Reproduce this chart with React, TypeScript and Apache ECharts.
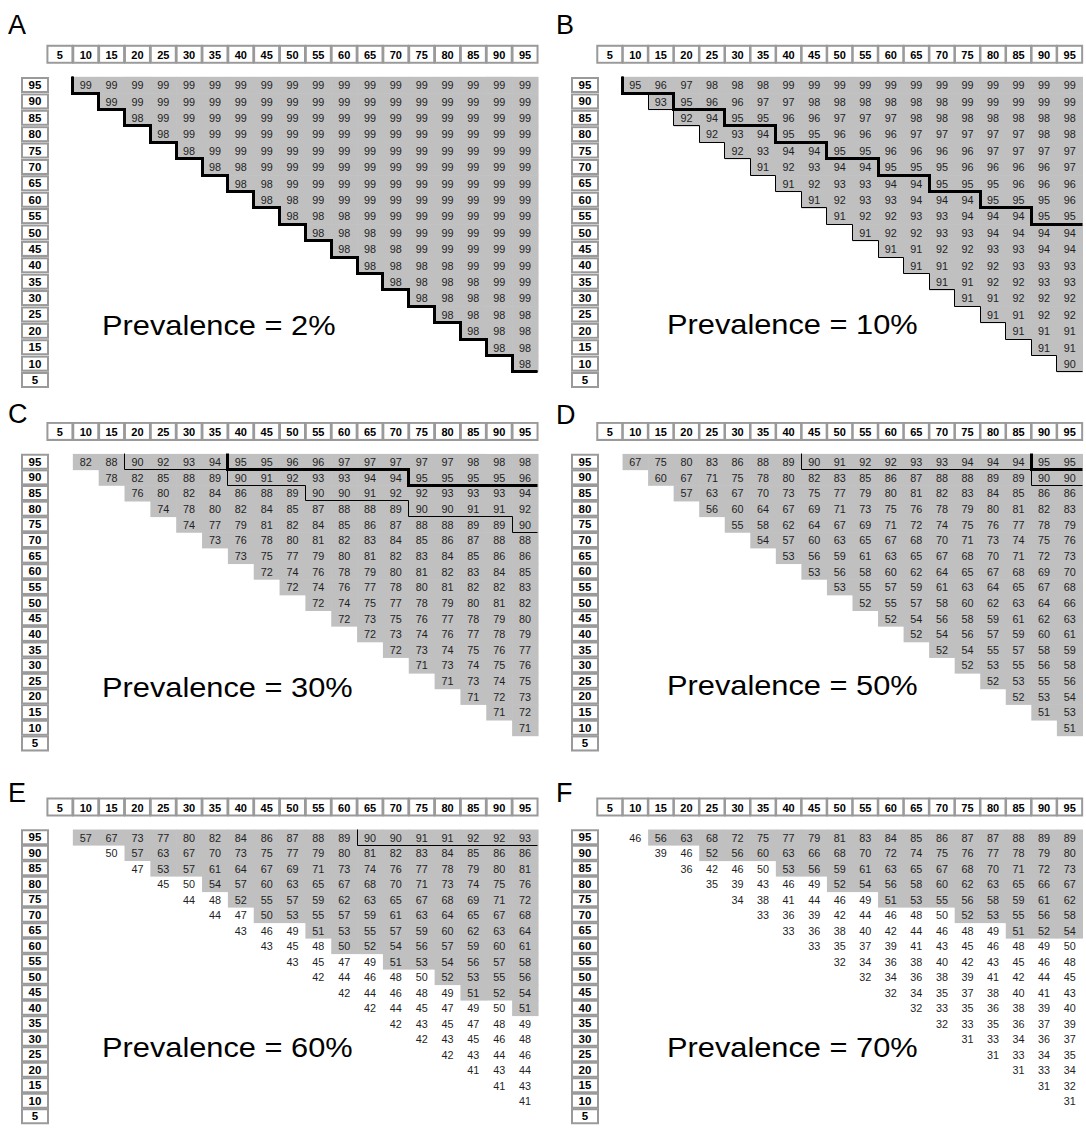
import { useEffect, useRef } from 'react';
import * as echarts from 'echarts';

const FONT = '"Liberation Sans", Arial, Helvetica, sans-serif';

// Column categories: specificity (%) ; row categories: sensitivity (%)
const SPEC = ['5', '10', '15', '20', '25', '30', '35', '40', '45', '50', '55', '60', '65', '70', '75', '80', '85', '90', '95'];
const SENS = ['95', '90', '85', '80', '75', '70', '65', '60', '55', '50', '45', '40', '35', '30', '25', '20', '15', '10', '5'];
const LETTERS = ['A', 'B', 'C', 'D', 'E', 'F'];
const PREVALENCE = [2, 10, 30, 50, 60, 70];

// Values per row (sensitivity 95 .. 10), each row starting at the first specificity with sens + spec > 100
const NPV_A = [
  [99, 99, 99, 99, 99, 99, 99, 99, 99, 99, 99, 99, 99, 99, 99, 99, 99, 99],
  [99, 99, 99, 99, 99, 99, 99, 99, 99, 99, 99, 99, 99, 99, 99, 99, 99],
  [98, 99, 99, 99, 99, 99, 99, 99, 99, 99, 99, 99, 99, 99, 99, 99],
  [98, 99, 99, 99, 99, 99, 99, 99, 99, 99, 99, 99, 99, 99, 99],
  [98, 99, 99, 99, 99, 99, 99, 99, 99, 99, 99, 99, 99, 99],
  [98, 98, 99, 99, 99, 99, 99, 99, 99, 99, 99, 99, 99],
  [98, 98, 99, 99, 99, 99, 99, 99, 99, 99, 99, 99],
  [98, 98, 99, 99, 99, 99, 99, 99, 99, 99, 99],
  [98, 98, 98, 99, 99, 99, 99, 99, 99, 99],
  [98, 98, 98, 99, 99, 99, 99, 99, 99],
  [98, 98, 98, 99, 99, 99, 99, 99],
  [98, 98, 98, 98, 99, 99, 99],
  [98, 98, 98, 98, 99, 99],
  [98, 98, 98, 98, 99],
  [98, 98, 98, 98],
  [98, 98, 98],
  [98, 98],
  [98],
];
const NPV_B = [
  [95, 96, 97, 98, 98, 98, 99, 99, 99, 99, 99, 99, 99, 99, 99, 99, 99, 99],
  [93, 95, 96, 96, 97, 97, 98, 98, 98, 98, 98, 98, 99, 99, 99, 99, 99],
  [92, 94, 95, 95, 96, 96, 97, 97, 97, 98, 98, 98, 98, 98, 98, 98],
  [92, 93, 94, 95, 95, 96, 96, 96, 97, 97, 97, 97, 97, 98, 98],
  [92, 93, 94, 94, 95, 95, 96, 96, 96, 96, 97, 97, 97, 97],
  [91, 92, 93, 94, 94, 95, 95, 95, 96, 96, 96, 96, 97],
  [91, 92, 93, 93, 94, 94, 95, 95, 95, 96, 96, 96],
  [91, 92, 93, 93, 94, 94, 94, 95, 95, 95, 96],
  [91, 92, 92, 93, 93, 94, 94, 94, 95, 95],
  [91, 92, 92, 93, 93, 94, 94, 94, 94],
  [91, 91, 92, 92, 93, 93, 94, 94],
  [91, 91, 92, 92, 93, 93, 93],
  [91, 91, 92, 92, 93, 93],
  [91, 91, 92, 92, 92],
  [91, 91, 92, 92],
  [91, 91, 91],
  [91, 91],
  [90],
];
const NPV_C = [
  [82, 88, 90, 92, 93, 94, 95, 95, 96, 96, 97, 97, 97, 97, 97, 98, 98, 98],
  [78, 82, 85, 88, 89, 90, 91, 92, 93, 93, 94, 94, 95, 95, 95, 95, 96],
  [76, 80, 82, 84, 86, 88, 89, 90, 90, 91, 92, 92, 93, 93, 93, 94],
  [74, 78, 80, 82, 84, 85, 87, 88, 88, 89, 90, 90, 91, 91, 92],
  [74, 77, 79, 81, 82, 84, 85, 86, 87, 88, 88, 89, 89, 90],
  [73, 76, 78, 80, 81, 82, 83, 84, 85, 86, 87, 88, 88],
  [73, 75, 77, 79, 80, 81, 82, 83, 84, 85, 86, 86],
  [72, 74, 76, 78, 79, 80, 81, 82, 83, 84, 85],
  [72, 74, 76, 77, 78, 80, 81, 82, 82, 83],
  [72, 74, 75, 77, 78, 79, 80, 81, 82],
  [72, 73, 75, 76, 77, 78, 79, 80],
  [72, 73, 74, 76, 77, 78, 79],
  [72, 73, 74, 75, 76, 77],
  [71, 73, 74, 75, 76],
  [71, 73, 74, 75],
  [71, 72, 73],
  [71, 72],
  [71],
];
const NPV_D = [
  [67, 75, 80, 83, 86, 88, 89, 90, 91, 92, 92, 93, 93, 94, 94, 94, 95, 95],
  [60, 67, 71, 75, 78, 80, 82, 83, 85, 86, 87, 88, 88, 89, 89, 90, 90],
  [57, 63, 67, 70, 73, 75, 77, 79, 80, 81, 82, 83, 84, 85, 86, 86],
  [56, 60, 64, 67, 69, 71, 73, 75, 76, 78, 79, 80, 81, 82, 83],
  [55, 58, 62, 64, 67, 69, 71, 72, 74, 75, 76, 77, 78, 79],
  [54, 57, 60, 63, 65, 67, 68, 70, 71, 73, 74, 75, 76],
  [53, 56, 59, 61, 63, 65, 67, 68, 70, 71, 72, 73],
  [53, 56, 58, 60, 62, 64, 65, 67, 68, 69, 70],
  [53, 55, 57, 59, 61, 63, 64, 65, 67, 68],
  [52, 55, 57, 58, 60, 62, 63, 64, 66],
  [52, 54, 56, 58, 59, 61, 62, 63],
  [52, 54, 56, 57, 59, 60, 61],
  [52, 54, 55, 57, 58, 59],
  [52, 53, 55, 56, 58],
  [52, 53, 55, 56],
  [52, 53, 54],
  [51, 53],
  [51],
];
const NPV_E = [
  [57, 67, 73, 77, 80, 82, 84, 86, 87, 88, 89, 90, 90, 91, 91, 92, 92, 93],
  [50, 57, 63, 67, 70, 73, 75, 77, 79, 80, 81, 82, 83, 84, 85, 86, 86],
  [47, 53, 57, 61, 64, 67, 69, 71, 73, 74, 76, 77, 78, 79, 80, 81],
  [45, 50, 54, 57, 60, 63, 65, 67, 68, 70, 71, 73, 74, 75, 76],
  [44, 48, 52, 55, 57, 59, 62, 63, 65, 67, 68, 69, 71, 72],
  [44, 47, 50, 53, 55, 57, 59, 61, 63, 64, 65, 67, 68],
  [43, 46, 49, 51, 53, 55, 57, 59, 60, 62, 63, 64],
  [43, 45, 48, 50, 52, 54, 56, 57, 59, 60, 61],
  [43, 45, 47, 49, 51, 53, 54, 56, 57, 58],
  [42, 44, 46, 48, 50, 52, 53, 55, 56],
  [42, 44, 46, 48, 49, 51, 52, 54],
  [42, 44, 45, 47, 49, 50, 51],
  [42, 43, 45, 47, 48, 49],
  [42, 43, 45, 46, 48],
  [42, 43, 44, 46],
  [41, 43, 44],
  [41, 43],
  [41],
];
const NPV_F = [
  [46, 56, 63, 68, 72, 75, 77, 79, 81, 83, 84, 85, 86, 87, 87, 88, 89, 89],
  [39, 46, 52, 56, 60, 63, 66, 68, 70, 72, 74, 75, 76, 77, 78, 79, 80],
  [36, 42, 46, 50, 53, 56, 59, 61, 63, 65, 67, 68, 70, 71, 72, 73],
  [35, 39, 43, 46, 49, 52, 54, 56, 58, 60, 62, 63, 65, 66, 67],
  [34, 38, 41, 44, 46, 49, 51, 53, 55, 56, 58, 59, 61, 62],
  [33, 36, 39, 42, 44, 46, 48, 50, 52, 53, 55, 56, 58],
  [33, 36, 38, 40, 42, 44, 46, 48, 49, 51, 52, 54],
  [33, 35, 37, 39, 41, 43, 45, 46, 48, 49, 50],
  [32, 34, 36, 38, 40, 42, 43, 45, 46, 48],
  [32, 34, 36, 38, 39, 41, 42, 44, 45],
  [32, 34, 35, 37, 38, 40, 41, 43],
  [32, 33, 35, 36, 38, 39, 40],
  [32, 33, 35, 36, 37, 39],
  [31, 33, 34, 36, 37],
  [31, 33, 34, 35],
  [31, 33, 34],
  [31, 32],
  [31],
];

// Per row (sens 95 .. 10): specificity where the grey (> 50%) shading starts; missing = none
const GRAY_A = [10, 15, 20, 25, 30, 35, 40, 45, 50, 55, 60, 65, 70, 75, 80, 85, 90, 95];
const GRAY_B = [10, 15, 20, 25, 30, 35, 40, 45, 50, 55, 60, 65, 70, 75, 80, 85, 90, 95];
const GRAY_C = [10, 15, 20, 25, 30, 35, 40, 45, 50, 55, 60, 65, 70, 75, 80, 85, 90, 95];
const GRAY_D = [10, 15, 20, 25, 30, 35, 40, 45, 50, 55, 60, 65, 70, 75, 80, 85, 90, 95];
const GRAY_E = [10, 20, 25, 35, 40, 45, 55, 60, 70, 80, 85, 95];
const GRAY_F = [15, 25, 40, 50, 60, 75, 85];

// Per row: specificity where the >= 90% region (thin line) starts
const THIN_A = [10, 15, 20, 25, 30, 35, 40, 45, 50, 55, 60, 65, 70, 75, 80, 85, 90, 95];
const THIN_B = [10, 15, 20, 25, 30, 35, 40, 45, 50, 55, 60, 65, 70, 75, 80, 85, 90, 95];
const THIN_C = [20, 40, 55, 75, 95];
const THIN_D = [45, 90];
const THIN_E = [65];
const THIN_F: number[] = [];

// Per row: specificity where the >= 95% region (thick line) starts
const THICK_A = [10, 15, 20, 25, 30, 35, 40, 45, 50, 55, 60, 65, 70, 75, 80, 85, 90, 95];
const THICK_B = [10, 20, 30, 40, 50, 60, 70, 80, 90];
const THICK_C = [40, 75];
const THICK_D = [90];
const THICK_E: number[] = [];
const THICK_F: number[] = [];

const VALUES = [NPV_A, NPV_B, NPV_C, NPV_D, NPV_E, NPV_F];
const GRAYS = [GRAY_A, GRAY_B, GRAY_C, GRAY_D, GRAY_E, GRAY_F];
const THINS = [THIN_A, THIN_B, THIN_C, THIN_D, THIN_E, THIN_F];
const THICKS = [THICK_A, THICK_B, THICK_C, THICK_D, THICK_E, THICK_F];

// Layout
const COL_LEFT = [47, 597];
const ROW_TOP = [76.8, 453.9, 829.5];
const ROW_PITCH = [16.39, 15.65, 15.5];
const COL_PITCH = 25.84;
const LETTER_X = [8, 556];
const LETTER_BASE = [34, 34, 423, 424, 802, 802];
const PREV_X = [102, 667];
const PREV_BASE = [335, 334, 697, 695, 1057, 1057];

const colOf = (spec: number) => SPEC.indexOf(String(spec));

function stairSeries(k: number, starts: number[], width: number) {
  return {
    type: 'custom',
    xAxisIndex: k,
    yAxisIndex: k,
    silent: true,
    clip: false,
    z: width > 2 ? 4 : 3,
    data: starts.length ? [[0, 0]] : [],
    renderItem: (_params: any, api: any) => {
      const s = api.size([1, 1]);
      const snap = (v: number) => Math.round(v - 0.5) + 0.5;
      const pts: number[][] = [];
      const leftOf = (col: number, row: number) => {
        if (col > SPEC.length - 1) return api.coord([SPEC.length - 1, row])[0] + s[0] / 2;
        return api.coord([col, row])[0] - s[0] / 2;
      };
      for (let i = 0; i < starts.length; i++) {
        const c = api.coord([colOf(starts[i]), i]);
        const top = c[1] - s[1] / 2;
        const bot = c[1] + s[1] / 2;
        const x = leftOf(colOf(starts[i]), i);
        const nextCol = i + 1 < starts.length ? colOf(starts[i + 1]) : SPEC.length;
        const xn = leftOf(nextCol, i);
        pts.push([snap(x), snap(top)], [snap(x), snap(bot)], [snap(xn), snap(bot)]);
      }
      return {
        type: 'polyline',
        shape: { points: pts },
        style: { stroke: '#000', lineWidth: width, fill: null, lineJoin: 'miter' },
      };
    },
  };
}

function cellSeries(k: number) {
  const data: number[][] = [];
  VALUES[k].forEach((row, i) => {
    row.forEach((v, j) => {
      const col = i + 1 + j;
      const g = GRAYS[k][i];
      const isGray = g !== undefined && col >= colOf(g) ? 1 : 0;
      data.push([col, i, v, isGray]);
    });
  });
  return {
    type: 'custom',
    xAxisIndex: k,
    yAxisIndex: k,
    silent: true,
    clip: false,
    z: 2,
    data,
    renderItem: (_params: any, api: any) => {
      const c = api.coord([api.value(0), api.value(1)]);
      const s = api.size([1, 1]);
      const children: any[] = [];
      if (api.value(3)) {
        children.push({
          type: 'rect',
          shape: { x: c[0] - s[0] / 2, y: c[1] - s[1] / 2, width: s[0] + 0.6, height: s[1] + 0.6 },
          style: { fill: '#c0c0c0' },
        });
      }
      children.push({
        type: 'text',
        style: {
          text: String(api.value(2)),
          x: c[0],
          y: c[1] + 0.3,
          align: 'center',
          verticalAlign: 'middle',
          textAlign: 'center',
          textVerticalAlign: 'middle',
          fontSize: 10.8,
          fontFamily: FONT,
          fill: '#1e1e1e',
        },
      });
      return { type: 'group', children };
    },
  };
}

export default function App() {
  const ref = useRef<HTMLDivElement>(null);
  useEffect(() => {
    if (!ref.current) return;
    const chart = echarts.init(ref.current, undefined, { renderer: 'svg' });
    const idx = [0, 1, 2, 3, 4, 5];
    const grid = idx.map((k) => ({
      left: COL_LEFT[k % 2],
      top: ROW_TOP[Math.floor(k / 2)],
      width: COL_PITCH * SPEC.length,
      height: ROW_PITCH[Math.floor(k / 2)] * SENS.length,
      containLabel: false,
    }));
    const xAxis = idx.map((k) => ({
      gridIndex: k,
      type: 'category',
      data: SPEC,
      position: 'top',
      axisLine: { show: false },
      axisTick: { show: false },
      splitLine: { show: false },
      axisLabel: {
        interval: 0,
        margin: 15,
        fontSize: 11,
        fontWeight: 'bold',
        fontFamily: FONT,
        color: '#000',
        width: 21,
        lineHeight: 12,
        align: 'center',
        padding: [2, 1, 1, 1],
        borderColor: '#9a9a9a',
        borderWidth: 2,
        backgroundColor: '#fff',
      },
    }));
    const yAxis = idx.map((k) => ({
      gridIndex: k,
      type: 'category',
      data: SENS,
      inverse: true,
      axisLine: { show: false },
      axisTick: { show: false },
      splitLine: { show: false },
      axisLabel: {
        interval: 0,
        margin: 12,
        fontSize: 11.5,
        fontWeight: 'bold',
        fontFamily: FONT,
        color: '#000',
        width: 22,
        lineHeight: 11,
        align: 'center',
        verticalAlign: 'middle',
        padding: [1, 1, 0, 1],
        borderColor: '#9a9a9a',
        borderWidth: 2,
        backgroundColor: '#fff',
      },
    }));
    const series: any[] = [];
    idx.forEach((k) => {
      series.push(cellSeries(k));
      series.push(stairSeries(k, THINS[k], 1));
      series.push(stairSeries(k, THICKS[k], 3));
    });
    const graphic: any[] = [];
    LETTERS.forEach((L, k) => {
      graphic.push({
        type: 'text',
        x: LETTER_X[k % 2],
        y: LETTER_BASE[k] - 0.3465 * 27,
        style: {
          text: L,
          fontSize: 27,
          fontFamily: FONT,
          fill: '#000',
          verticalAlign: 'middle',
          textVerticalAlign: 'middle',
        },
      });
    });
    PREVALENCE.forEach((p, k) => {
      graphic.push({
        type: 'text',
        x: PREV_X[k % 2],
        y: PREV_BASE[k] - 0.3465 * 28.5,
        scaleX: 1.08,
        style: {
          text: `Prevalence = ${p}%`,
          fontSize: 28.5,
          fontFamily: FONT,
          fill: '#000',
          verticalAlign: 'middle',
          textVerticalAlign: 'middle',
        },
      });
    });
    chart.setOption({
      animation: false,
      backgroundColor: '#fff',
      textStyle: { fontFamily: FONT },
      grid,
      xAxis,
      yAxis,
      series,
      graphic,
    });
    return () => chart.dispose();
  }, []);
  return (
    <div
      ref={ref}
      style={{ position: 'fixed', left: 0, top: 0, width: 1086, height: 1128, background: '#fff' }}
    />
  );
}
